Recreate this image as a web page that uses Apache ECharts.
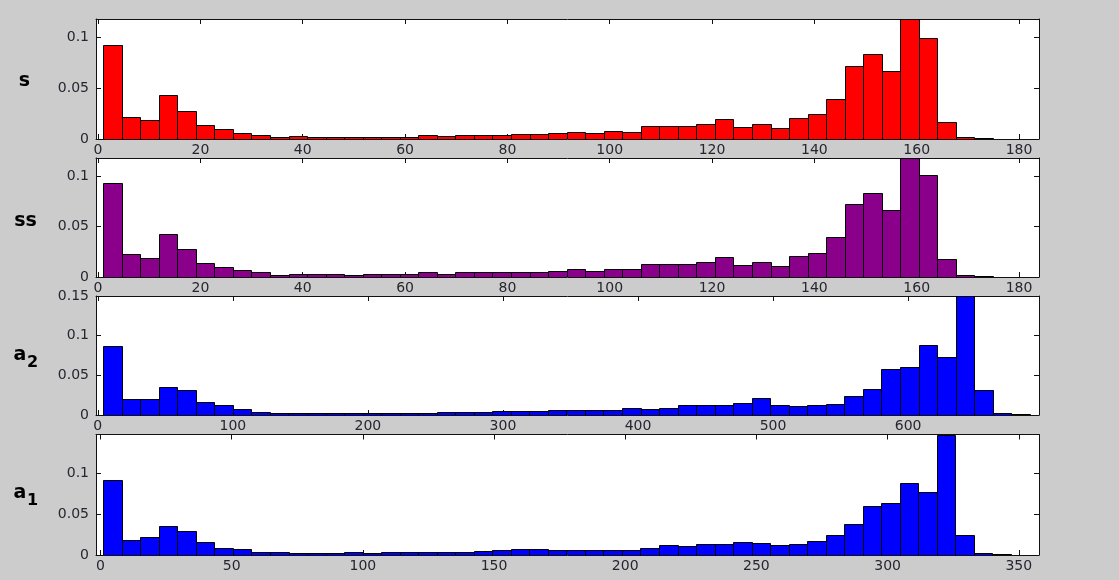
<!DOCTYPE html>
<html>
<head>
<meta charset="utf-8">
<script src="https://cdn.jsdelivr.net/npm/echarts@6/dist/echarts.min.js"></script>
<style>
html,body{margin:0;padding:0;background:#cccccc;}
#chart{width:1119px;height:580px;}
</style>
</head>
<body>
<div id="chart"></div>
<script>
// ---- data (histogram frequencies, 50 bins each) ----
const sValues = [0.0927,0.0222,0.0185,0.043,0.0281,0.0139,0.0103,0.0063,0.0043,0.002,
  0.0026,0.0023,0.0023,0.0017,0.0023,0.0023,0.0023,0.0043,0.0026,0.0043,
  0.0043,0.0043,0.0053,0.0053,0.0063,0.0073,0.0063,0.0083,0.0073,0.0126,
  0.0126,0.0126,0.0146,0.0195,0.0119,0.0149,0.0109,0.0205,0.0242,0.0394,
  0.0719,0.0841,0.0672,0.1185,0.1,0.0172,0.002,0.001,0,0];
const ssValues = [0.0933,0.0227,0.019,0.0423,0.0283,0.0143,0.0103,0.0067,0.0047,0.002,
  0.0027,0.0027,0.0027,0.0017,0.0027,0.0027,0.0027,0.0047,0.0027,0.0047,
  0.0047,0.0047,0.0053,0.0053,0.0063,0.0077,0.0063,0.0077,0.0077,0.013,
  0.013,0.013,0.015,0.0197,0.0123,0.015,0.0113,0.0207,0.0243,0.0397,
  0.0727,0.084,0.067,0.1183,0.101,0.018,0.002,0.001,0,0];
const a2Values = [0.0866,0.0202,0.0202,0.0357,0.0319,0.0164,0.0122,0.0071,0.0038,0.0025,
  0.0025,0.0025,0.0025,0.0025,0.0025,0.0021,0.0021,0.0021,0.0038,0.0038,
  0.0038,0.005,0.005,0.0046,0.0059,0.0067,0.0067,0.0067,0.0092,0.008,
  0.0092,0.0126,0.0126,0.0126,0.0151,0.021,0.0126,0.0113,0.0126,0.0139,
  0.0235,0.0332,0.0576,0.0605,0.0878,0.0727,0.15,0.0319,0.0021,0.001];
const a1Values = [0.0921,0.0186,0.0219,0.036,0.0289,0.0161,0.0091,0.007,0.0033,0.0033,
  0.0021,0.0021,0.0021,0.0033,0.0021,0.0033,0.0033,0.0033,0.0033,0.0033,
  0.0045,0.0058,0.007,0.0068,0.0056,0.0066,0.0066,0.0066,0.0066,0.0091,
  0.0128,0.0116,0.0136,0.0136,0.0161,0.0149,0.0128,0.0136,0.0174,0.0244,
  0.0384,0.0603,0.064,0.0884,0.0769,0.1475,0.0244,0.002,0.001,0];

// bin edges (data units): first edge and bin width per panel
const binStart = [1.0, 1.0, 4.0, 1.07];
const binWidth = [3.623, 3.623, 13.72, 7.06];

// axis ranges
const xMin = [-0.4, -0.4, -1.33, -1.7];
const xMax = [183.9, 183.9, 696.9, 357.7];
const yMax = [0.1185, 0.1183, 0.15, 0.1475];

// tick labels
const xTicksAngle = [0,20,40,60,80,100,120,140,160,180];
const xTicksA2 = [0,100,200,300,400,500,600];
const xTicksA1 = [0,50,100,150,200,250,300,350];
const yTicksSmall = [0,0.05,0.1];
const yTicksLarge = [0,0.05,0.1,0.15];

const panelNames = ['s','ss','a','a'];
const panelSubs = ['','','2','1'];
const panelColors = ['#ff0000','#8b008b','#0000ff','#0000ff'];

// ---- build ----
const valuesList = [sValues, ssValues, a2Values, a1Values];
const xTicksList = [xTicksAngle, xTicksAngle, xTicksA2, xTicksA1];
const yTicksList = [yTicksSmall, yTicksSmall, yTicksLarge, yTicksSmall];
const gridTops = [19, 158, 296, 434.5];
const gridHeights = [120, 119, 119, 120.5];

const labelFont = {fontFamily:'DejaVu Sans', fontSize:14, color:'#262630'};
const lineStyle = {color:'#111', width:1};

const grids = [], xAxes = [], yAxes = [], series = [];
for (let i = 0; i < 4; i++) {
  grids.push({left:96, right:80, top:gridTops[i], height:gridHeights[i],
    show:true, backgroundColor:'#ffffff', borderWidth:0});
  const xBase = {gridIndex:i, type:'value', min:xMin[i], max:xMax[i],
    axisLine:{show:true, onZero:false, lineStyle:lineStyle},
    splitLine:{show:false}};
  xAxes.push(Object.assign({}, xBase, {position:'bottom',
    axisTick:{show:true, inside:true, length:5, lineStyle:lineStyle, customValues:xTicksList[i]},
    axisLabel:Object.assign({show:true, margin:4, customValues:xTicksList[i]}, labelFont)}));
  xAxes.push(Object.assign({}, xBase, {position:'top',
    axisTick:{show:true, inside:true, length:5, lineStyle:lineStyle, customValues:xTicksList[i]},
    axisLabel:{show:false}}));
  const yBase = {gridIndex:i, type:'value', min:0, max:yMax[i],
    axisLine:{show:true, onZero:false, lineStyle:lineStyle},
    splitLine:{show:false}};
  yAxes.push(Object.assign({}, yBase, {position:'left',
    axisTick:{show:true, inside:true, length:5, lineStyle:lineStyle, customValues:yTicksList[i]},
    axisLabel:Object.assign({show:true, margin:7, customValues:yTicksList[i]}, labelFont)}));
  yAxes.push(Object.assign({}, yBase, {position:'right',
    axisTick:{show:true, inside:true, length:5, lineStyle:lineStyle, customValues:yTicksList[i]},
    axisLabel:{show:false}}));

  const data = valuesList[i].map((v, k) => [binStart[i] + k*binWidth[i], binStart[i] + (k+1)*binWidth[i], v]);
  const color = panelColors[i];
  series.push({
    type:'custom', xAxisIndex:2*i, yAxisIndex:2*i, data:data,
    encode:{x:[0,1], y:2},
    clip:true,
    renderItem:function(params, api){
      const v = api.value(2);
      if (!v) return null;
      const p0 = api.coord([api.value(0), v]);
      const p1 = api.coord([api.value(1), 0]);
      const x0 = Math.round(p0[0]) + 0.5, x1 = Math.round(p1[0]) + 0.5;
      const y0 = Math.round(p0[1]) + 0.5, y1 = Math.round(p1[1]) + 0.5;
      return {type:'rect', shape:{x:x0, y:y0, width:x1-x0, height:y1-y0},
        style:{fill:color, stroke:'#000', lineWidth:1}};
    }
  });
}

const nameTop = [81, 221, 355, 493];
const graphics = [];
for (let i = 0; i < 4; i++) {
  graphics.push({type:'text', x: panelSubs[i] ? 20 : (i===1 ? 25.5 : 24.5), y:nameTop[i],
    style:{text:panelNames[i], font:'bold 19px "DejaVu Sans"', fill:'#000',
      textAlign:'center', textVerticalAlign:'middle'}});
  if (panelSubs[i]) {
    graphics.push({type:'text', x:32.5, y:nameTop[i]+8,
      style:{text:panelSubs[i], font:'bold 16px "DejaVu Sans"', fill:'#000',
        textAlign:'center', textVerticalAlign:'middle'}});
  }
}

const chart = echarts.init(document.getElementById('chart'), null, {renderer:'canvas'});
chart.setOption({
  animation:false,
  backgroundColor:'#cccccc',
  grid:grids, xAxis:xAxes, yAxis:yAxes, series:series,
  graphic:graphics
});
</script>
</body>
</html>
